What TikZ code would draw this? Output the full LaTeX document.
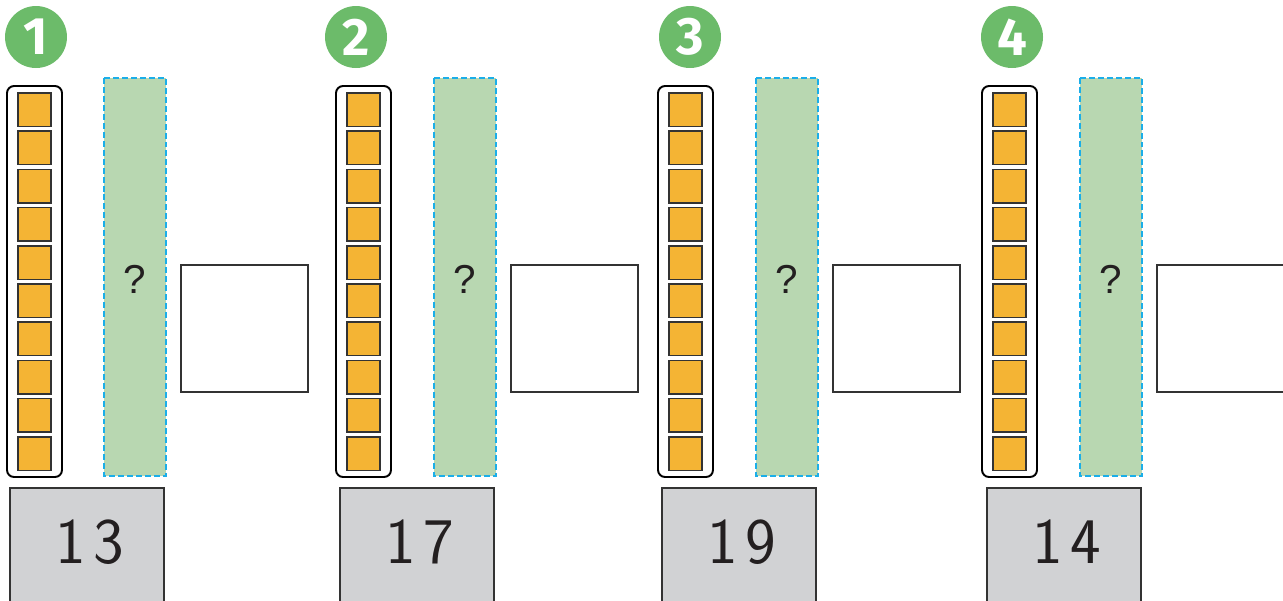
\documentclass[tikz,border=0pt]{standalone}
\usepackage{fontspec}
\setmainfont{Liberation Sans}
\newfontfamily\badgefont{Fira Sans}
\newfontfamily\cardfont[LetterSpace=12]{Latin Modern Sans}
\definecolor{badgegreen}{HTML}{6CBB6A}
\definecolor{barfill}{HTML}{B8D7B1}
\definecolor{dashblue}{HTML}{1BAEE8}
\definecolor{cubefill}{HTML}{F4B434}
\definecolor{edge}{HTML}{333333}
\definecolor{ink}{HTML}{231F20}
\definecolor{cardgray}{HTML}{D1D2D4}
\tikzset{
  rodbox/.style={draw=black, line width=1.1pt, rounded corners=4pt, fill=white},
  cube/.style={draw=edge, line width=0.85pt, fill=cubefill},
  unknownbar/.style={draw=dashblue, line width=0.85pt, dash pattern=on 3.4pt off 1.7pt, fill=barfill},
  answerbox/.style={draw=edge, line width=1.1pt, fill=white},
  card/.style={draw=edge, line width=1.1pt, fill=cardgray},
  badge/.style={circle, fill=badgegreen, minimum size=1.24cm, inner sep=0pt, text=white, font=\badgefont\bfseries\fontsize{30}{30}\selectfont},
  qmark/.style={inner sep=0pt, font=\fontsize{23}{23}\selectfont, text=ink},
  cardnum/.style={inner sep=0pt, font=\cardfont\fontsize{37}{37}\selectfont, text=ink}
}
\begin{document}
\begin{tikzpicture}[x=0.02cm, y=-0.02cm]
\useasboundingbox (0,0) rectangle (1283,600);
\clip (0,0) rectangle (1283,600);
\foreach \b/\r/\g/\w/\k/\i/\n in {36/7/104/181/10/1/13, 356/336/434/511/340/2/17, 690/658/756/833/662/3/19, 1012/982/1080/1157/987/4/14} {
  \node[badge] (badge\i) at (\b,37) {\i};
  \draw[rodbox] (\r,86) rectangle (\r+55,477);
  \foreach \j in {0,...,9} {
    \draw[cube] (\r+11,93+\j*38.2) rectangle ++(33,33.5);
  }
  \draw[unknownbar] (\g,78) rectangle (\g+62,476);
  \node[qmark] (q\i) at (\g+31,279) {?};
  \draw[answerbox] (\w,265) rectangle (\w+127,392);
  \draw[card] (\k,488) rectangle (\k+154,625);
  \node[cardnum] (num\i) at (\k+80,542) {\n};
}
\end{tikzpicture}
\end{document}
